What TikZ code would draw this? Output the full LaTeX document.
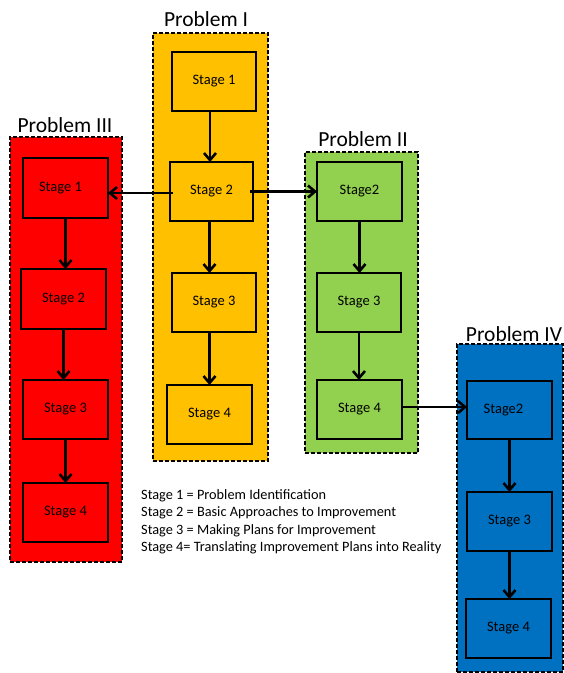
\documentclass[tikz,border=0pt]{standalone}
\usepackage{fontspec}
\setmainfont{Carlito}
\usetikzlibrary{arrows.meta}
\definecolor{pone}{HTML}{FFC000}
\definecolor{pthree}{HTML}{FF0000}
\definecolor{ptwo}{HTML}{92D050}
\definecolor{pfour}{HTML}{0070C0}
\tikzset{
  cont/.style={draw=black, line width=2pt, dash pattern=on 4pt off 2pt, inner sep=0pt, outer sep=0pt},
  stagebox/.style={draw=black, line width=2.6pt, minimum width=85pt, minimum height=59pt, inner sep=0pt, outer sep=0pt, font=\fontsize{14.5}{16}\selectfont},
  ptitle/.style={anchor=base, inner sep=0pt, font=\fontsize{21.5}{24}\selectfont},
  legend/.style={anchor=base west, inner sep=0pt, font=\fontsize{14.3}{16}\selectfont},
  arr/.style={line width=2.6pt, -{Straight Barb[length=7pt,width=12pt,line width=2.6pt]}}
}
\begin{document}
\begin{tikzpicture}[x=1pt,y=-1pt]
\useasboundingbox (0,0) rectangle (564,673);
% containers
\node[cont, fill=pone, minimum width=115pt, minimum height=428pt] (P1) at (210.5,247) {};
\node[cont, fill=pthree, minimum width=112pt, minimum height=425pt] (P3) at (66,349.5) {};
\node[cont, fill=ptwo, minimum width=113pt, minimum height=301pt] (P2) at (361.5,302.5) {};
\node[cont, fill=pfour, minimum width=106pt, minimum height=328pt] (P4) at (510,508) {};
% titles
\node[ptitle] (T1) at (206,26) {Problem I};
\node[ptitle] (T3) at (65,132) {Problem III};
\node[ptitle] (T2) at (363,146) {Problem II};
\node[ptitle] (T4) at (514,341) {Problem IV};
% Problem I
\node[stagebox, fill=pone, minimum width=84pt] (P1S1) at (214,81.5) {Stage 1};
\node[stagebox, fill=pone, minimum width=83pt] (P1S2) at (211.5,191.5) {Stage 2};
\node[stagebox, fill=pone, minimum width=84pt] (P1S3) at (214,302.5) {Stage 3};
\node[stagebox, fill=pone] (P1S4) at (209.5,414.5) {Stage 4};
% Problem III
\node[stagebox, fill=pthree, minimum height=60pt] (P3S1) at (65.5,188) {\hspace*{-10pt}Stage 1};
\node[stagebox, fill=pthree, minimum height=60pt] (P3S2) at (63.5,299) {Stage 2};
\node[stagebox, fill=pthree] (P3S3) at (65.5,409.5) {Stage 3};
\node[stagebox, fill=pthree] (P3S4) at (65.5,512.5) {Stage 4};
% Problem II
\node[stagebox, fill=ptwo] (P2S2) at (359.5,191.5) {Stage2};
\node[stagebox, fill=ptwo, minimum width=84pt] (P2S3) at (359,302.5) {Stage 3};
\node[stagebox, fill=ptwo] (P2S4) at (359.5,409.5) {Stage 4};
% Problem IV
\node[stagebox, fill=pfour, minimum height=58pt] (P4S2) at (509.5,410) {\hspace*{-12pt}Stage2};
\node[stagebox, fill=pfour] (P4S3) at (509.5,521.5) {Stage 3};
\node[stagebox, fill=pfour] (P4S4) at (508.5,628.5) {Stage 4};
% vertical arrows
\draw[arr] ([xshift=-4pt]P1S1.south) -- ([xshift=-4pt]P1S1.south |- P1S2.north);
\draw[arr] ([xshift=-2pt]P1S2.south) -- ([xshift=-2pt]P1S2.south |- P1S3.north);
\draw[arr] (P1S4.north |- P1S3.south) -- (P1S4.north);
\draw[arr] (P3S1.south) -- (P3S1.south |- P3S2.north);
\draw[arr] (P3S2.south) -- (P3S2.south |- P3S3.north);
\draw[arr] (P3S3.south) -- (P3S3.south |- P3S4.north);
\draw[arr] (P2S2.south) -- (P2S2.south |- P2S3.north);
\draw[arr] (P2S3.south) -- (P2S3.south |- P2S4.north);
\draw[arr] (P4S2.south) -- (P4S2.south |- P4S3.north);
\draw[arr] (P4S3.south) -- (P4S3.south |- P4S4.north);
% horizontal arrows
\draw[arr] ([shift={(3pt,-1.5pt)}]P1S2.west) -- ([yshift=-1.5pt]P1S2.west -| P3S1.east);
\draw[arr] ([xshift=-3pt]P1S2.east) -- (P1S2.east -| P2S2.west);
\draw[arr] ([yshift=2.5pt]P2S4.east) -- ([yshift=2.5pt]P2S4.east -| P4S2.west);
% legend
\node[legend] (L1) at (141,499.5) {Stage 1 = Problem Identification};
\node[legend] (L2) at (141,516.8) {Stage 2 = Basic Approaches to Improvement};
\node[legend] (L3) at (141,534.1) {Stage 3 = Making Plans for Improvement};
\node[legend] (L4) at (141,551.4) {Stage 4= Translating Improvement Plans into Reality};
\end{tikzpicture}
\end{document}
